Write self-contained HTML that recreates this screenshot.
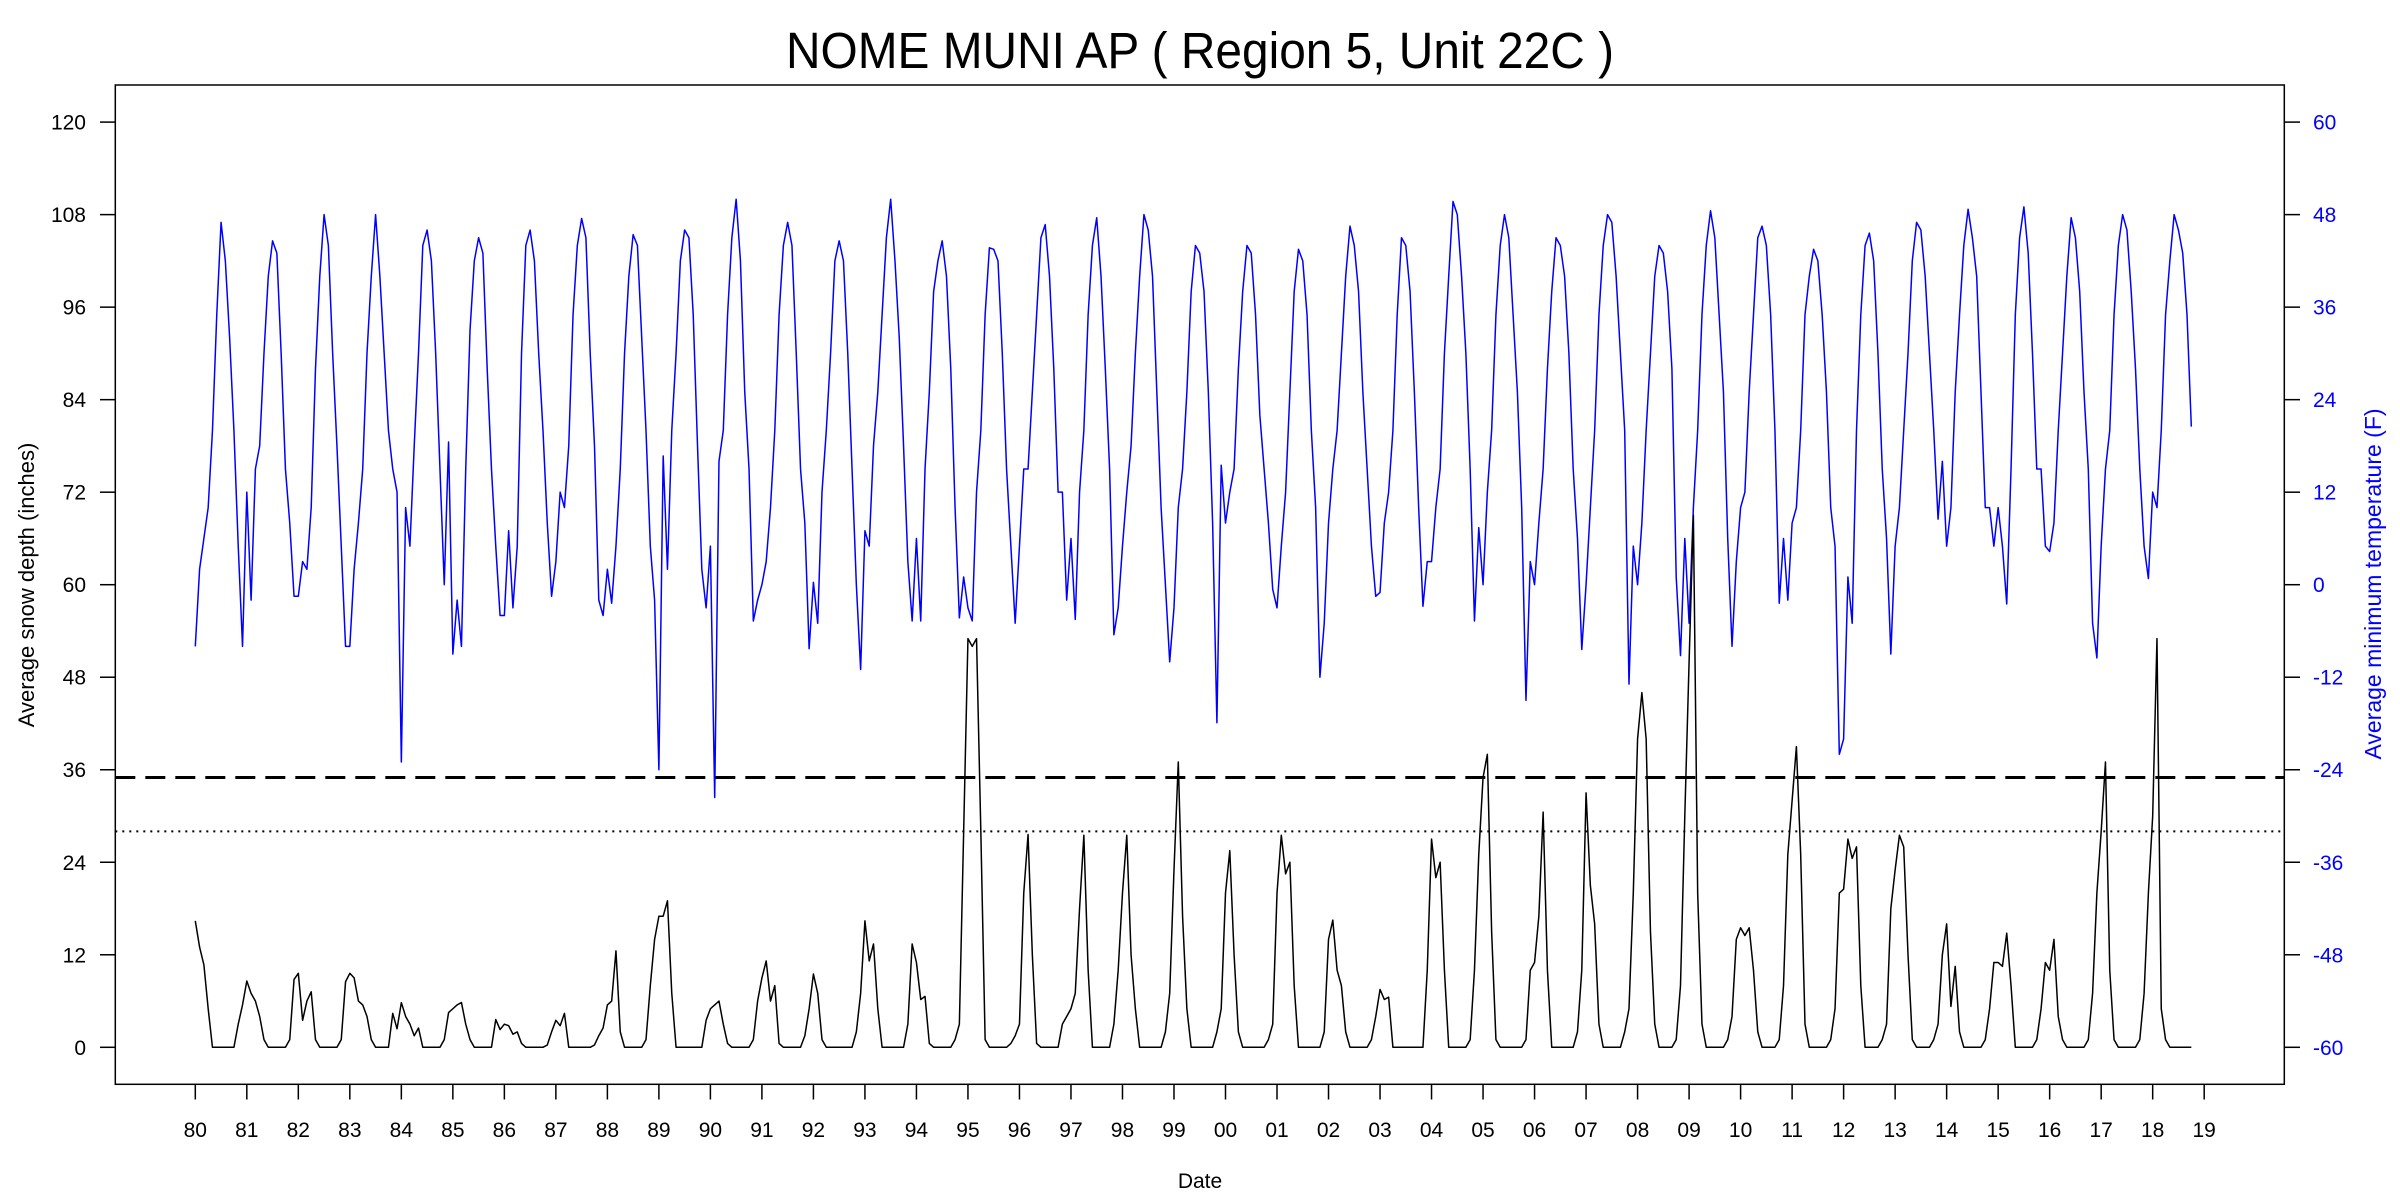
<!DOCTYPE html>
<html><head><meta charset="utf-8"><style>
html,body{margin:0;padding:0;background:#fff;}
svg{display:block;font-family:"Liberation Sans",Arial,sans-serif;}
</style></head><body>
<svg id="chart" width="2400" height="1200" viewBox="0 0 2400 1200" xmlns="http://www.w3.org/2000/svg">
<rect width="2400" height="1200" fill="#fff"/>
<text x="1200" y="68" font-size="51" text-anchor="middle" textLength="828" lengthAdjust="spacingAndGlyphs">NOME MUNI AP ( Region 5, Unit 22C )</text>
<g id="marks"></g>
<rect x="115.3" y="85" width="2169" height="999.3" fill="none" stroke="#000" stroke-width="1.5"/>
<text x="1200" y="1188" font-size="21" text-anchor="middle">Date</text>
<text transform="translate(34,585) rotate(-90)" font-size="22" text-anchor="middle">Average snow depth (inches)</text>
<text transform="translate(2381,584) rotate(-90)" font-size="23" fill="#0000ff" text-anchor="middle">Average minimum temperature (F)</text>
</svg>
<script>
const yearLabels = ["80","81","82","83","84","85","86","87","88","89","90","91","92","93","94","95","96","97","98","99","00","01","02","03","04","05","06","07","08","09","10","11","12","13","14","15","16","17","18","19"];
const leftTicks = [0,12,24,36,48,60,72,84,96,108,120];
const rightTicks = [-60,-48,-36,-24,-12,0,12,24,36,48,60];
const snowThresholdDashed = 35;
const snowThresholdDotted = 28;
const snowDepth = [
16.4,13,10.7,5,0,0,0,0,0,0,3,5.5,
8.6,7,6,4,1,0,0,0,0,0,1,8.8,
9.6,3.5,6,7.2,1,0,0,0,0,0,1,8.5,
9.6,9,6,5.5,4,1,0,0,0,0,4.4,2.4,
5.8,4,3,1.5,2.5,0,0,0,0,0,1,4.5,
5,5.5,5.8,3,1,0,0,0,0,0,3.6,2.3,
3,2.8,1.7,2,0.5,0,0,0,0,0,0.3,2,
3.5,2.8,4.4,0,0,0,0,0,0,0.3,1.5,2.5,
5.5,6,12.5,2,0,0,0,0,0,1,8,14,
17,17,19,7,0,0,0,0,0,0,0,3.5,
5,5.5,6,3,0.5,0,0,0,0,0,1,6,
9,11.2,6,8,0.5,0,0,0,0,0,1.5,5,
9.5,7,1,0,0,0,0,0,0,0,2,7,
16.4,11.2,13.4,5,0,0,0,0,0,0,3,13.4,
11,6.2,6.6,0.5,0,0,0,0,0,1,3,28,
53,52,53,28,1,0,0,0,0,0,0.5,1.5,
3,20,27.6,12,0.5,0,0,0,0,0,3,4,
5,7,18,27.5,10,0,0,0,0,0,3,10,
20,27.5,12,5,0,0,0,0,0,0,2,7,
23,37,17,5,0,0,0,0,0,0,2,5,
20,25.5,12,2,0,0,0,0,0,0,1,3,
20,27.5,22.5,24,8,0,0,0,0,0,0,2,
14,16.5,10,8,2,0,0,0,0,0,1,4,
7.5,6.2,6.5,0,0,0,0,0,0,0,0,10,
27,22,24,10,0,0,0,0,0,1,10,25,
35,38,15,1,0,0,0,0,0,0,1,10,
11,17,30.5,10,0,0,0,0,0,0,2,10,
33,21,16,3,0,0,0,0,0,2,5,20,
40,46,40,15,3,0,0,0,0,1,8,30,
50,69,20,3,0,0,0,0,0,1,4,14,
15.5,14.5,15.5,10,2,0,0,0,0,1,8,25,
32,39,25,3,0,0,0,0,0,1,5,20,
20.5,27,24.5,26,8,0,0,0,0,1,3,18,
23,27.5,26,12,1,0,0,0,0,1,3,12,
16,5.3,10.5,2,0,0,0,0,0,1,5,11,
11,10.5,14.8,8,0,0,0,0,0,1,5,11,
10,14,4,1,0,0,0,0,0,1,7,20,
28,37,10,1,0,0,0,0,0,1,7,20,
30,53,5,1,0,0,0,0,0,0
];
const minTemp = [
-8,2,6,10,20,35,47,42,32,20,5,-8,
12,-2,15,18,30,40,44.6,43,30,15,8,-1.5,
-1.5,3,2,10,28,40,48,44,30,18,5,-8,
-8,2,8,15,30,40,48,40,30,20,15,12,
-23,10,5,18,30,44,46,42,30,15,0,18.5,
-9,-2,-8,15,33,42,45,43,28,15,5,-4,
-4,7,-3,5,30,44,46,42,30,20,8,-1.5,
3,12,10,18,35,44,47.5,45,30,18,-2,-4,
2,-2.4,5,15,30,40,45.4,44,32,20,5,-2,
-24,16.7,2,20,30,42,46,45,35,18,2,-3,
5,-27.6,16,20,35,45,50,42,25,15,-4.7,-2,
0,3,10,20,35,44,47,44,30,15,8,-8.3,
0.3,-5,12,20,30,42,44.6,42,30,15,0,-11,
7,5,18,25,35,45,50,42,32,18,3,-4.7,
6,-4.7,15,25,38,42,44.6,40,28,10,-4.3,1,
-3,-4.7,12,20,35,43.7,43.5,42,30,15,5,-5,
5,15,15,25,35,45,46.7,40,28,12,12,-2,
6,-4.5,12,20,35,44,47.6,40,28,15,-6.5,-3,
5,12,18,30,40,48,46,40,25,10,0,-10,
-3,10,15,25,38,44,43,38,25,8,-17.9,15.5,
8,12,15,28,38,44,43,35,22,15,8,-0.6,
-3,5,12,25,38,43.5,42,35,20,10,-12,-5,
8,15,20,30,40,46.5,44,38,25,15,5,-1.5,
-1,8,12,20,35,45,44,38,25,10,-2.8,3,
3,10,15,30,40,49.7,48,40,30,15,-4.7,7.4,
0,12,20,35,44,48,45,35,25,10,-15,3,
0,8,15,28,38,45,44,40,30,15,6,-8.4,
0,10,20,35,44,48,47,40,30,20,-12.9,5,
0,8,20,30,40,44,43,38,28,1,-9.2,6,
-5,10,20,35,44,48.5,45,35,25,6,-8,3,
10,12,25,35,45,46.5,44,35,20,-2.4,6,-2,
8,10,20,35,40,43.5,42,35,25,10,5,-22,
-20,1,-5,20,35,44,45.6,42,30,15,6,-9,
5,10,20,30,42,47,46,40,30,20,8.5,16,
5,10,25,35,44,48.7,45,40,25,10,10,5,
10,5,-2.5,15,35,45,49,43,30,15,15,5,
4.3,8,20,30,40,47.6,45,38,25,15,-5,-9.5,
5,15,20,35,44,48,46,38,28,15,5,0.8,
12,10,20,35,42,48,46,43,35,20.5
];
const NS = "http://www.w3.org/2000/svg";
const X0 = 195.3, PXY = 51.51;
function xScale(yearsSince1980){ return X0 + yearsSince1980*PXY; }
function yLeft(v){ return 1047.3 - v*7.71; }
function yRight(t){ return yLeft(t + 60); }
const g = document.getElementById('marks');
function mk(tag, attrs){ const e=document.createElementNS(NS,tag); for(const k in attrs) e.setAttribute(k,attrs[k]); g.appendChild(e); return e; }
// left axis
leftTicks.forEach(v=>{
  const y=yLeft(v);
  const t=mk('line',{x1:100,x2:115.3,y1:y,y2:y,stroke:'#000','stroke-width':1.5});
  
  
  const l=mk('text',{x:86,y:y+7.5,'font-size':21,'text-anchor':'end'});
  l.textContent=v;
  
  
});
// right axis
rightTicks.forEach(v=>{
  const y=yRight(v);
  const t=mk('line',{x1:2284.3,x2:2300,y1:y,y2:y,stroke:'#000','stroke-width':1.5});
  
  
  const l=mk('text',{x:2313,y:y+7.5,'font-size':21,fill:'#0000ff'});
  l.textContent=v;
  
  
});
// x axis
yearLabels.forEach((lab,i)=>{
  const x=xScale(i);
  const t=mk('line',{x1:x,x2:x,y1:1084.3,y2:1099.5,stroke:'#000','stroke-width':1.5});
  
  
  const l=mk('text',{x:x,y:1137,'font-size':21,'text-anchor':'middle'});
  l.textContent=lab;
  
  
});
// threshold lines
const dl=mk('line',{x1:115.3,x2:2284.3,y1:yLeft(snowThresholdDashed),y2:yLeft(snowThresholdDashed),stroke:'#000','stroke-width':3,'stroke-dasharray':'20 10'});


const dt=mk('line',{x1:115.3,x2:2284.3,y1:yLeft(snowThresholdDotted),y2:yLeft(snowThresholdDotted),stroke:'#000','stroke-width':2,'stroke-dasharray':'2 5'});


// series
const tp=mk('polyline',{fill:'none',stroke:'#0000ff','stroke-width':1.5,'stroke-linejoin':'round',points:minTemp.map((v,i)=>xScale(i/12).toFixed(2)+','+yRight(v).toFixed(2)).join(' ')});


const sp=mk('polyline',{fill:'none',stroke:'#000','stroke-width':1.5,'stroke-linejoin':'round',points:snowDepth.map((v,i)=>xScale(i/12).toFixed(2)+','+yLeft(v).toFixed(2)).join(' ')});


</script>
</body></html>
